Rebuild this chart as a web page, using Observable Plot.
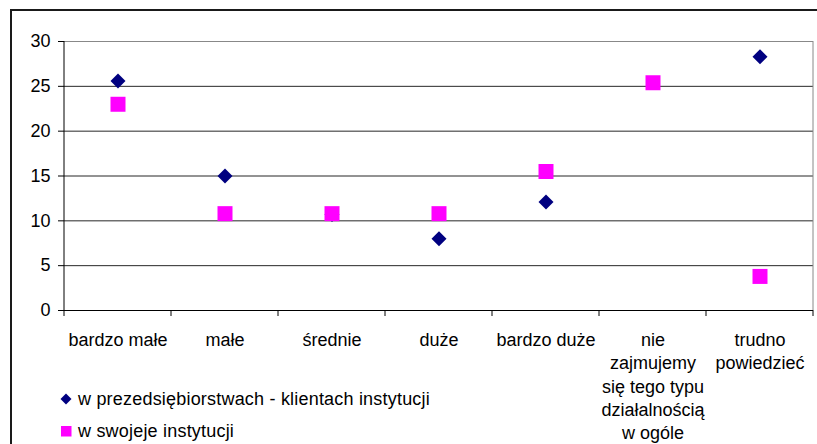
<!DOCTYPE html>
<html><head><meta charset="utf-8">
<script src="https://cdn.jsdelivr.net/npm/d3@7"></script>
<script src="https://cdn.jsdelivr.net/npm/@observablehq/plot@0.6"></script>
<style>
html,body{margin:0;padding:0;background:#fff;}
#wrap{position:relative;width:817px;height:444px;overflow:hidden;font-family:"Liberation Sans",Arial,sans-serif;}
#border{position:absolute;left:10px;top:9px;width:900px;height:500px;border:2px solid #1a1a1a;box-sizing:border-box;}
#chart{position:absolute;left:0;top:0;}
.lg{position:absolute;left:60px;height:24px;display:flex;align-items:center;font-size:18px;color:#000;white-space:nowrap;letter-spacing:0.2px;}
.lg svg{margin-right:6px;}
</style></head><body>
<div id="wrap"><div id="border"></div><div id="chart"></div><div id="legend"></div></div>
<script>
const categories = ["bardzo małe", "małe", "średnie", "duże", "bardzo duże", "nie\nzajmujemy\nsię tego typu\ndziałalnością\nw ogóle", "trudno\npowiedzieć"];
const seriesNames = ["w prezedsiębiorstwach - klientach instytucji", "w swojeje instytucji"];
const clientValues = [25.6, 15.0, 10.7, 8.0, 12.1, null, 28.3];
const ownValues = [23.0, 10.8, 10.8, 10.8, 15.5, 25.4, 3.8];
const yTicks = [0, 5, 10, 15, 20, 25, 30];
const colors = ["#000080", "#FF00FF"];

const squareSym = {draw(ctx, size){ const r = Math.sqrt(size / Math.PI); ctx.rect(-r, -r, 2*r, 2*r); }};
const diamondSym = {draw(ctx, size){ const r = Math.sqrt(size / Math.PI); ctx.moveTo(0, -r); ctx.lineTo(r, 0); ctx.lineTo(0, r); ctx.lineTo(-r, 0); ctx.closePath(); }};

const clientData = categories.map((c, i) => ({cat: c, v: clientValues[i]})).filter(d => d.v != null);
const ownData = categories.map((c, i) => ({cat: c, v: ownValues[i]})).filter(d => d.v != null);

const plot = Plot.plot({
  width: 817, height: 444,
  marginLeft: 64, marginRight: 4, marginTop: 41, marginBottom: 134,
  style: {fontFamily: "'Liberation Sans', Arial, sans-serif", fontSize: "18px", background: "transparent", color: "#000", overflow: "visible"},
  x: {type: "band", domain: categories, padding: 0, label: null},
  y: {domain: [0, 30], label: null},
  marks: [
    Plot.ruleY(yTicks.filter(t => t > 0 && t < 30), {stroke: "#000", strokeOpacity: 0.85}),
    Plot.ruleY([30], {stroke: "#888"}),
    Plot.ruleY([0], {stroke: "#000"}),
    Plot.axisY({ticks: yTicks, tickSize: 6, tickPadding: 8, tickFormat: d => String(d), label: null, stroke: "#000"}),
    Plot.axisX({tickSize: 0, tickPadding: 19, lineHeight: 1.295, label: null}),
    Plot.dot(clientData, {x: "cat", y: "v", symbol: diamondSym, r: 7.5, fill: colors[0], stroke: null}),
    Plot.dot(ownData, {x: "cat", y: "v", symbol: squareSym, r: 7.5, fill: colors[1], stroke: null})
  ]
});

// axis lines and category boundary ticks derived from the scales
const xs = plot.scale("x"), ys = plot.scale("y");
const bw = xs.bandwidth;
const y0 = ys.apply(0), yTop = ys.apply(30);
const svg = d3.select(plot);
const g = svg.append("g");
const bounds = categories.map(c => xs.apply(c)).concat([xs.apply(categories[categories.length-1]) + bw]);
bounds.forEach((bx, i) => {
  g.append("line").attr("x1", bx).attr("x2", bx).attr("y1", y0).attr("y2", y0 + 6).attr("stroke", "#000");
});
g.append("line").attr("x1", bounds[0]).attr("x2", bounds[0]).attr("y1", yTop).attr("y2", y0).attr("stroke", "#000");
g.append("line").attr("x1", bounds[bounds.length-1]).attr("x2", bounds[bounds.length-1]).attr("y1", yTop).attr("y2", y0).attr("stroke", "#888");
document.getElementById("chart").appendChild(plot);

// legend
const legend = document.getElementById("legend");
const rows = [
  {name: seriesNames[0], color: colors[0], shape: "diamond", top: 387},
  {name: seriesNames[1], color: colors[1], shape: "square", top: 419}
];
rows.forEach(r => {
  const div = document.createElement("div");
  div.className = "lg";
  div.style.top = r.top + "px";
  const shape = r.shape === "diamond"
    ? `<svg width="12" height="12" viewBox="-6 -6 12 12"><path d="M0,-5.5L5.5,0L0,5.5L-5.5,0Z" fill="${r.color}"/></svg>`
    : `<svg width="12" height="12" viewBox="0 0 12 12"><rect x="1" y="1" width="10.5" height="10.5" fill="${r.color}"/></svg>`;
  div.innerHTML = shape + `<span>${r.name}</span>`;
  legend.appendChild(div);
});
</script>
</body></html>
